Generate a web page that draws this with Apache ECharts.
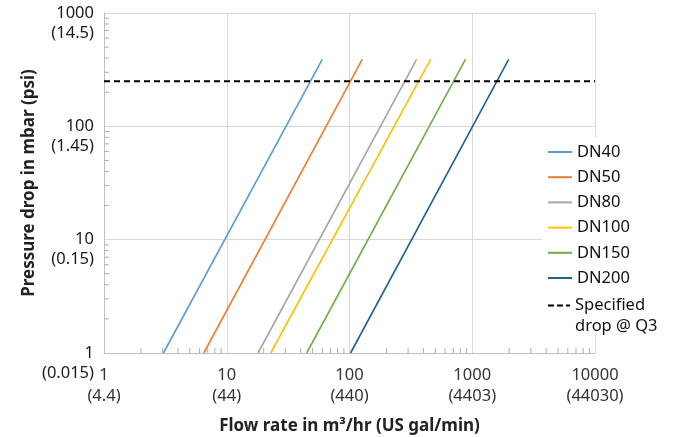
<!DOCTYPE html>
<html>
<head>
<meta charset="utf-8">
<script src="https://cdn.jsdelivr.net/npm/echarts@6/dist/echarts.min.js"></script>
<style>
  html, body { margin: 0; padding: 0; background: #fff; }
  #chart { width: 682px; height: 437px; }
</style>
</head>
<body>
<div id="chart"></div>
<script>
// tick labels
var xTicks = [1, 10, 100, 1000, 10000];
var xGal = ['(4.4)', '(44)', '(440)', '(4403)', '(44030)'];
var yTicks = [1, 10, 100, 1000];
var yPsi = ['(0.015)', '(0.15)', '(1.45)', '(14.5)'];

// pressure drop lines: [flow m3/hr, pressure mbar] at both ends
var dn40 = [[3.05, 1], [60, 390]];
var dn50 = [[6.5, 1], [127, 390]];
var dn80 = [[18, 1], [352, 390]];
var dn100 = [[22.8, 1], [458, 390]];
var dn150 = [[44.8, 1], [880, 390]];
var dn200 = [[102, 1], [1980, 390]];
var specified = [[1, 250], [10000, 250]];

var names = ['DN40', 'DN50', 'DN80', 'DN100', 'DN150', 'DN200'];
var colors = ['#5B9BD5', '#ED7D31', '#A5A5A5', '#FFC000', '#70AD47', '#255E91'];
var lines = [dn40, dn50, dn80, dn100, dn150, dn200];

// minor log ticks (2..9 in each decade)
var xMinor = [], yMinor = [];
for (var d = 1; d < 10000; d *= 10) {
    for (var m = 2; m <= 9; m++) {
        xMinor.push([m * d, 1]);
        if (d < 1000) yMinor.push([1, m * d]);
    }
}

var font = 'Noto Sans';
var fs = 16.5;
var chart = echarts.init(document.getElementById('chart'));

var series = lines.map(function (d, i) {
    return {
        name: names[i],
        type: 'line',
        data: d,
        symbol: 'none',
        color: colors[i],
        lineStyle: { width: 1.6, color: colors[i] },
        z: 3
    };
});
series.push({
    name: 'Specified drop @ Q3',
    type: 'line',
    data: specified,
    symbol: 'none',
    color: '#000',
    lineStyle: { width: 2, color: '#000', type: [6, 4] },
    z: 3
});
function tickRender(dir) {
    return function (params, api) {
        var p = api.coord([api.value(0), api.value(1)]);
        var x2 = dir === 'x' ? p[0] : p[0] + 5;
        var y2 = dir === 'x' ? p[1] - 5 : p[1];
        return {
            type: 'line',
            shape: { x1: p[0], y1: p[1], x2: x2, y2: y2 },
            style: { stroke: '#b0b0b0', lineWidth: 1 }
        };
    };
}
series.push({ type: 'custom', data: xMinor, renderItem: tickRender('x'), silent: true, clip: false, z: 4 });
series.push({ type: 'custom', data: yMinor, renderItem: tickRender('y'), silent: true, clip: false, z: 4 });

var option = {
    animation: false,
    textStyle: { fontFamily: font },
    grid: { left: 104, right: 87, top: 13, bottom: 84, outerBoundsMode: 'none' },
    xAxis: {
        type: 'log',
        logBase: 10,
        min: 1,
        max: 10000,
        name: 'Flow rate in m³/hr (US gal/min)',
        nameLocation: 'middle',
        nameGap: 65,
        nameMoveOverlap: false,
        nameTextStyle: { fontSize: 17, fontWeight: 'bold', color: '#222', fontFamily: font },
        axisLine: { lineStyle: { color: '#bfbfbf' } },
        axisTick: { show: false },
        splitLine: { show: true, lineStyle: { color: '#d9d9d9' } },
        axisLabel: {
            fontSize: fs,
            color: '#333',
            lineHeight: 21,
            margin: 12,
            fontFamily: font,
            formatter: function (v) {
                var i = xTicks.indexOf(Math.round(v));
                return i < 0 ? '' : xTicks[i] + '\n' + xGal[i];
            }
        }
    },
    yAxis: {
        type: 'log',
        logBase: 10,
        min: 1,
        max: 1000,
        name: 'Pressure drop in mbar (psi)',
        nameLocation: 'middle',
        nameGap: 66,
        nameMoveOverlap: false,
        nameTextStyle: { fontSize: 17, fontWeight: 'bold', color: '#222', fontFamily: font },
        axisLine: { show: true, lineStyle: { color: '#bfbfbf' } },
        axisTick: { show: false },
        splitLine: { show: true, lineStyle: { color: '#d9d9d9' } },
        axisLabel: {
            fontSize: fs,
            color: '#1a1a1a',
            lineHeight: 20,
            margin: 10,
            fontFamily: font,
            formatter: function (v) {
                var i = yTicks.indexOf(Math.round(v));
                // blank first line keeps the mbar value level with its tick
                return i < 0 ? '' : ' \n' + yTicks[i] + '\n' + yPsi[i];
            }
        }
    },
    legend: [{
        orient: 'vertical',
        left: 548,
        top: 143,
        padding: 0,
        icon: 'rect',
        itemWidth: 24,
        itemHeight: 2,
        itemGap: 7.2,
        data: names,
        textStyle: { fontSize: fs, color: '#111', lineHeight: 18, fontFamily: font }
    }, {
        orient: 'vertical',
        left: 548,
        top: 274,
        padding: 0,
        icon: 'path://M0,0h6v2h-6zM9,0h6v2h-6zM18,0h4v2h-4z',
        itemWidth: 22,
        itemHeight: 2,
        data: ['Specified drop @ Q3'],
        formatter: function () { return ' \nSpecified\ndrop @ Q3'; },
        textStyle: { fontSize: fs, color: '#111', lineHeight: 21, fontFamily: font }
    }],
    graphic: [{
        type: 'rect',
        shape: { x: 542, y: 137, width: 140, height: 198 },
        style: { fill: '#fff' },
        z: 1
    }],
    series: series
};
chart.setOption(option);
</script>
</body>
</html>
